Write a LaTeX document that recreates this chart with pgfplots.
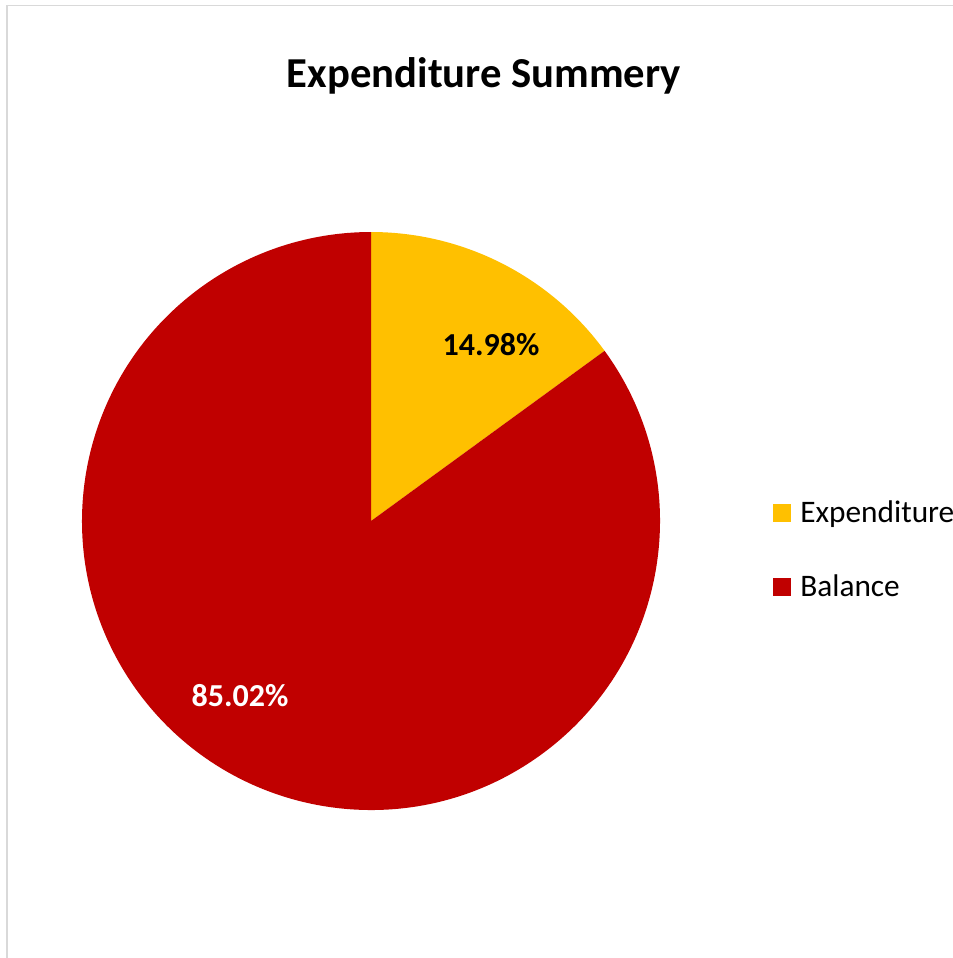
\documentclass[border=0pt]{standalone}
\usepackage{pgfplots}
\usepackage{pgfplotstable}
\pgfplotsset{compat=1.18}
\usepackage{fontspec}
\setmainfont{Carlito}

\definecolor{expcol}{HTML}{FFC000}
\definecolor{balcol}{HTML}{C00000}
\definecolor{framecol}{HTML}{D9D9D9}

% share of each slice, in per cent
\pgfplotstableread{
label       value
Expenditure 14.98
Balance     85.02
}\piedata

\begin{document}
\begin{tikzpicture}
\clip (0,0) rectangle (714.75pt,718.5pt);
\begin{axis}[
  at={(0,0)}, anchor=south west,
  width=714.75pt, height=718.5pt, scale only axis,
  xmin=0, xmax=953, ymin=0, ymax=958, y dir=reverse,
  hide axis, clip=false,
]
  % slice angles, clockwise from 12 o'clock
  \pgfplotstablegetelem{0}{value}\of\piedata
  \pgfmathsetmacro\angA{90-3.6*\pgfplotsretval}
  \pgfplotstablegetelem{1}{value}\of\piedata
  \pgfmathsetmacro\angB{\angA-3.6*\pgfplotsretval}

  % frame of the chart area
  \draw[framecol, line width=1.1pt] (axis cs:7,958) -- (axis cs:7,5.5) -- (axis cs:953,5.5);

  % slices (radius 289 px = 216.75pt), centre at (371,521)
  \fill[expcol] (axis cs:371,521) -- (axis cs:371,232) arc[start angle=90, end angle=\angA, radius=216.75pt] -- cycle;
  \fill[balcol] (axis cs:371,521) -- ++(\angA:216.75pt) arc[start angle=\angA, end angle=\angB, radius=216.75pt] -- cycle;

  % data labels
  \node[anchor=base, inner sep=0pt, font=\fontsize{24}{28}\selectfont\bfseries] at (axis cs:491,355) {14.98\%};
  \node[anchor=base, inner sep=0pt, text=white, font=\fontsize{24}{28}\selectfont\bfseries] at (axis cs:240,706) {85.02\%};

  % title
  \node[anchor=base, inner sep=0pt, font=\fontsize{32}{38}\selectfont\bfseries] at (axis cs:484,87.7) {Expenditure Summery};

  % legend
  \fill[expcol] (axis cs:772.7,504) rectangle (axis cs:790.7,522);
  \node[anchor=base west, inner sep=0pt, font=\fontsize{23.5}{28}\selectfont] at (axis cs:800,522.3) {Expenditure};
  \fill[balcol] (axis cs:772.7,578.3) rectangle (axis cs:790.7,596.3);
  \node[anchor=base west, inner sep=0pt, font=\fontsize{23.5}{28}\selectfont] at (axis cs:800,596) {Balance};
\end{axis}
\end{tikzpicture}
\end{document}
